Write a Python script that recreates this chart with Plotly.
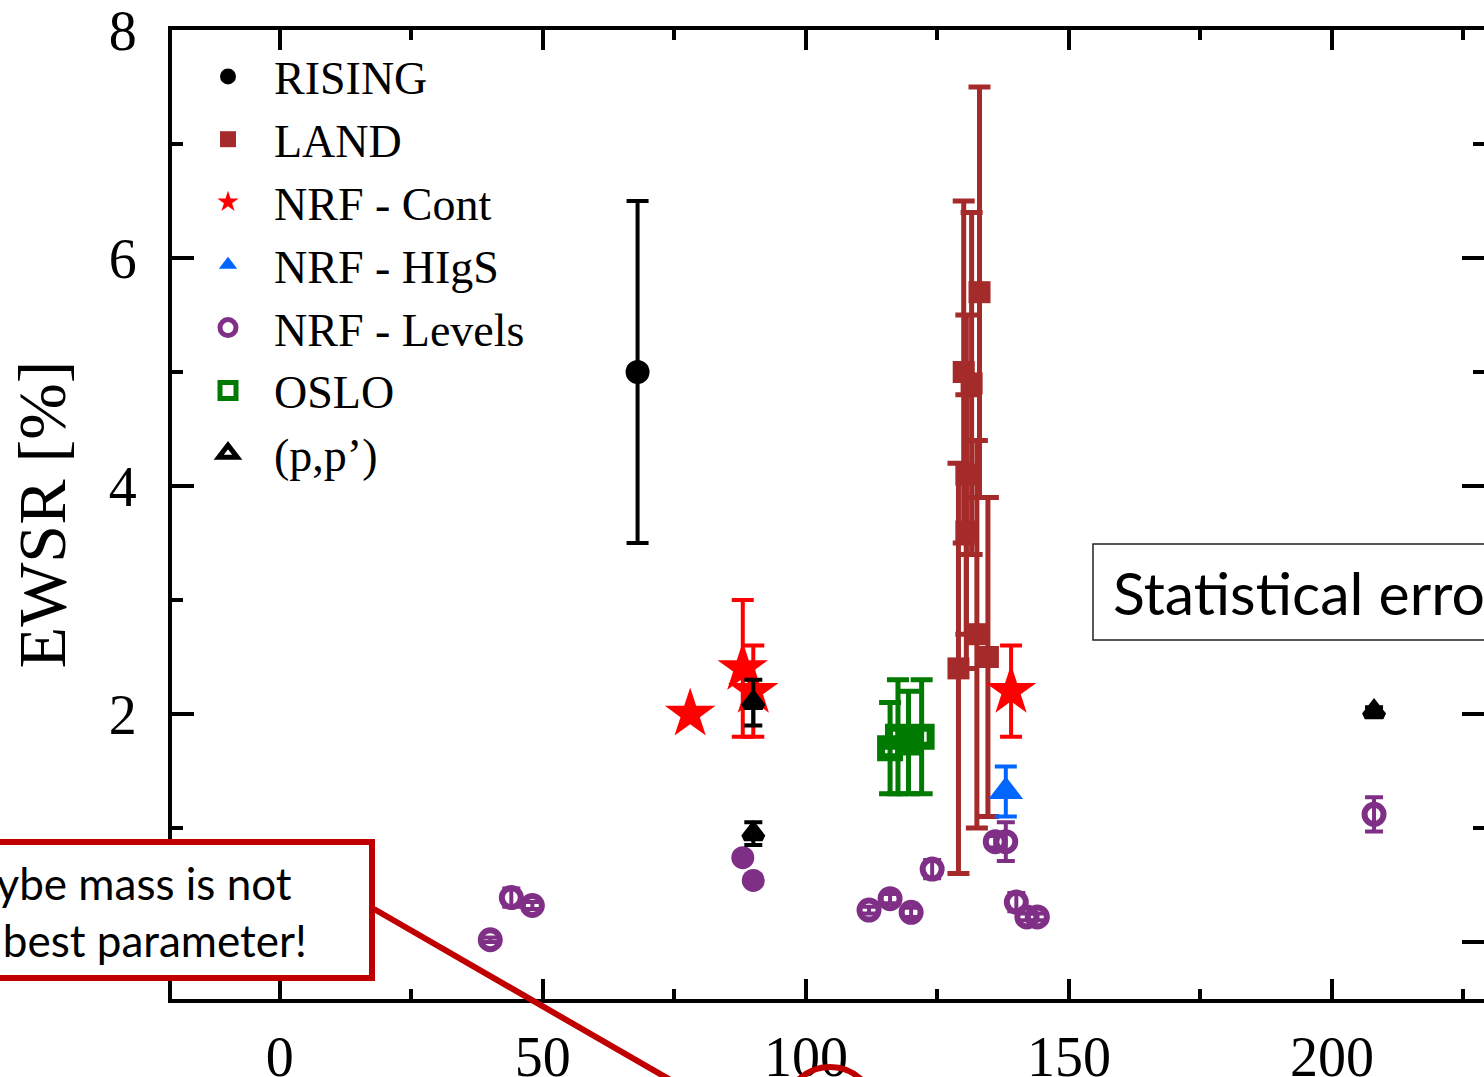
import plotly.graph_objects as go

# ---------------- data ----------------
rising_x = [68]
rising_y = [5.0]
rising_err = [1.5]

land_x = [129.0, 130.0, 130.5, 130.5, 131.5, 132.5, 133.0, 134.6]
land_y = [2.4, 5.0, 4.1, 3.6, 4.9, 2.7, 5.7, 2.5]
land_err = [1.8, 1.5, 1.4, 1.2, 1.5, 1.7, 1.8, 1.4]

cont_x = [78, 88, 90, 139]
cont_y = [2.0, 2.4, 2.2, 2.2]
cont_err = [0.0, 0.6, 0.4, 0.4]

higs_x = [138]
higs_y = [1.32]
higs_err = [0.22]

lev_x = [40, 44, 48, 112, 116, 120, 124, 136, 138, 140, 142, 144, 208]
lev_y = [0.02, 0.39, 0.32, 0.28, 0.38, 0.26, 0.64, 0.88, 0.88, 0.35, 0.22, 0.22, 1.12]
lev_err = [0.02, 0.08, 0.03, 0.03, 0.04, 0.04, 0.08, 0.05, 0.17, 0.08, 0.03, 0.03, 0.15]

lev_filled_x = [88, 90]
lev_filled_y = [0.74, 0.54]

oslo_x = [116, 117.5, 119.5, 122]
oslo_y = [1.7, 1.8, 1.75, 1.8]
oslo_err = [0.4, 0.5, 0.45, 0.5]

pp_x = [90, 90, 208]
pp_y = [2.1, 0.95, 2.02]
pp_err = [0.2, 0.1, 0.04]

x_ticks = [0, 50, 100, 150, 200]
y_ticks = [0, 2, 4, 6, 8]

# ---------------- styles ----------------
BLACK = "#000000"
BROWN = "#A52A2A"
RED = "#FF0000"
BLUE = "#0066FF"
PURPLE = "#7F2F85"
GREEN = "#007A00"
SERIF = "Liberation Serif"

def eb(arr, color, th=4, w=11):
    return dict(type="data", array=arr, visible=True, color=color, thickness=th, width=w)

fig = go.Figure()

fig.add_trace(go.Scatter(x=rising_x, y=rising_y, mode="markers", name="RISING",
    marker=dict(symbol="circle", size=24, color=BLACK),
    error_y=eb(rising_err, BLACK)))

fig.add_trace(go.Scatter(x=land_x, y=land_y, mode="markers", name="LAND",
    marker=dict(symbol="square", size=22, color=BROWN),
    error_y=eb(land_err, BROWN, th=5)))

fig.add_trace(go.Scatter(x=cont_x, y=cont_y, mode="markers", name="NRF - Cont",
    marker=dict(symbol="star", size=38, color=RED, line=dict(width=0)),
    error_y=eb(cont_err, RED)))

fig.add_trace(go.Scatter(x=higs_x, y=higs_y, mode="markers", name="NRF - HIgS",
    marker=dict(symbol="triangle-up", size=30, color=BLUE),
    error_y=eb(higs_err, BLUE)))

fig.add_trace(go.Scatter(x=lev_x, y=lev_y, mode="markers", name="NRF - Levels",
    marker=dict(symbol="circle-open", size=19, color=PURPLE, line=dict(width=6, color=PURPLE)),
    error_y=eb(lev_err, PURPLE, w=9)))

fig.add_trace(go.Scatter(x=lev_filled_x, y=lev_filled_y, mode="markers", name="NRF - Levels (filled)",
    showlegend=False,
    marker=dict(symbol="circle", size=23, color=PURPLE)))

fig.add_trace(go.Scatter(x=oslo_x, y=oslo_y, mode="markers", name="OSLO",
    marker=dict(symbol="square-open", size=18, color=GREEN, line=dict(width=8, color=GREEN)),
    error_y=eb(oslo_err, GREEN, th=5)))

fig.add_trace(go.Scatter(x=pp_x, y=pp_y, mode="markers", name="(p,p’)",
    marker=dict(symbol="triangle-up-open", size=16, color=BLACK, line=dict(width=7, color=BLACK)),
    error_y=eb(pp_err, BLACK, w=9)))

W, H = 1484, 1077
L, T, B = 172, 30, 78
PW, PH = W - L, H - T - B

def px(x):
    return (x - L) / PW

def py(y):
    return (H - B - y) / PH

fig.update_layout(
    width=W, height=H,
    margin=dict(l=L, r=0, t=T, b=B, pad=0, autoexpand=False),
    paper_bgcolor="white", plot_bgcolor="white",
    font=dict(family=SERIF, color=BLACK),
    showlegend=True,
    legend=dict(x=px(182), y=py(40), xanchor="left", yanchor="top",
                bgcolor="rgba(0,0,0,0)", borderwidth=0,
                font=dict(family=SERIF, size=46, color=BLACK),
                itemwidth=82, tracegroupgap=0),
)

fig.update_xaxes(range=[-20.5, 228.9], tickvals=x_ticks, ticktext=[str(v) for v in x_ticks],
    automargin=False, ticklabeloverflow="allow",
    showgrid=False, zeroline=False, showline=True, linecolor=BLACK, linewidth=4, mirror="ticks",
    ticks="inside", ticklen=20, tickwidth=4, tickcolor=BLACK,
    tickfont=dict(family=SERIF, size=56, color=BLACK), ticklabelstandoff=6,
    minor=dict(tickvals=[25, 75, 125, 175, 225], ticks="inside", ticklen=10, tickwidth=4, tickcolor=BLACK))

fig.update_yaxes(range=[-0.5, 8], tickvals=y_ticks, ticktext=[str(v) for v in y_ticks],
    automargin=False, ticklabeloverflow="allow",
    showgrid=False, zeroline=False, showline=True, linecolor=BLACK, linewidth=4, mirror="ticks",
    ticks="inside", ticklen=22, tickwidth=4, tickcolor=BLACK,
    tickfont=dict(family=SERIF, size=56, color=BLACK), ticklabelstandoff=20,
    minor=dict(tickvals=[1, 3, 5, 7], ticks="inside", ticklen=11, tickwidth=4, tickcolor=BLACK),
    title=dict(text="EWSR [%]", font=dict(family=SERIF, size=68, color=BLACK), standoff=22))

# ---- overlay callouts (slide annotations) ----
DARKRED = "#C00000"
shapes = []
shapes.append(dict(type="rect", xref="paper", yref="paper",
    x0=px(1093), x1=px(1700), y0=py(640), y1=py(544),
    line=dict(color="#222222", width=1.5), fillcolor="white", layer="above"))
shapes.append(dict(type="rect", xref="paper", yref="paper",
    x0=px(-250), x1=px(372), y0=py(978), y1=py(842),
    line=dict(color=DARKRED, width=6), fillcolor="white", layer="above"))
shapes.append(dict(type="line", xref="paper", yref="paper",
    x0=px(374), y0=py(909), x1=px(700), y1=py(1097),
    line=dict(color=DARKRED, width=6), layer="above"))
shapes.append(dict(type="circle", xref="paper", yref="paper",
    x0=px(784), x1=px(876), y0=py(1160), y1=py(1067),
    line=dict(color=DARKRED, width=6), layer="above"))
fig.update_layout(shapes=shapes)

annos = []
annos.append(dict(xref="paper", yref="paper", x=px(1111), y=py(592), xanchor="left", yanchor="middle",
    text="Statistical errors only", showarrow=False,
    font=dict(family="Lato", size=59, color=BLACK)))
annos.append(dict(xref="paper", yref="paper", x=px(294), y=py(883), xanchor="right", yanchor="middle",
    text="Maybe mass is not", showarrow=False,
    font=dict(family="Lato", size=44, color=BLACK)))
annos.append(dict(xref="paper", yref="paper", x=px(309), y=py(940), xanchor="right", yanchor="middle",
    text="the best parameter!", showarrow=False,
    font=dict(family="Lato", size=44, color=BLACK)))
fig.update_layout(annotations=annos)

fig.write_html("out.html", config={"displayModeBar": False},
    post_script="document.body.style.margin='0px';document.body.style.overflow='hidden';")
